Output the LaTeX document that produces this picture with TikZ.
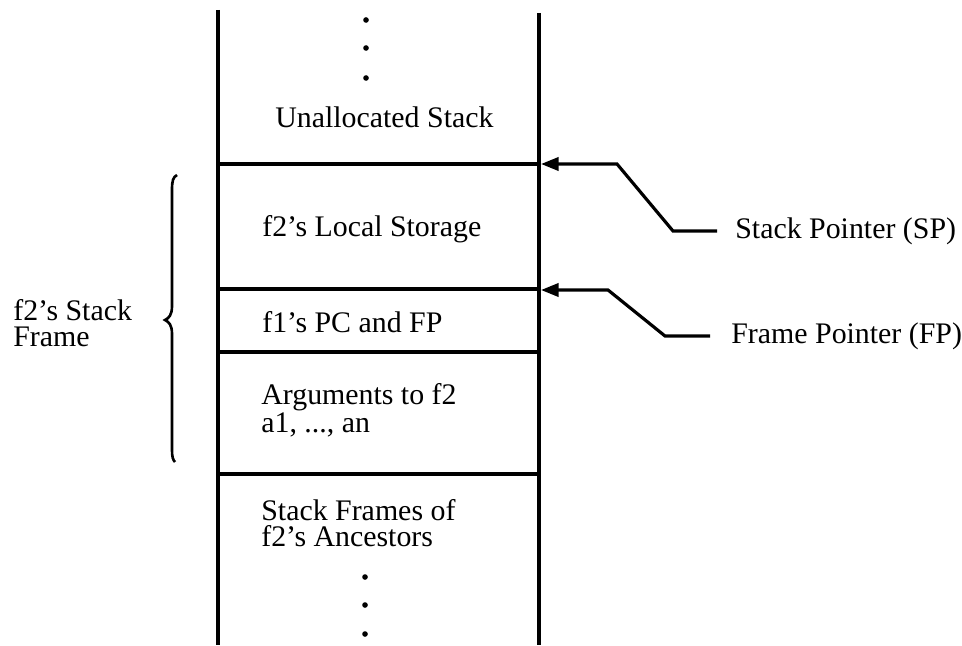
\documentclass[tikz,border=0pt]{standalone}
\usepackage{fontspec}
\setmainfont{Liberation Serif}
\usetikzlibrary{arrows.meta}
\begin{document}
\begin{tikzpicture}[x=0.02cm,y=-0.02cm,
  wall/.style={line width=1.9pt},
  divider/.style={line width=1.8pt},
  ptr/.style={line width=1.8pt,-{Triangle[length=10pt,width=7.5pt]}},
  bracestyle/.style={line width=1.5pt},
  lbl/.style={font=\fontsize{17}{14.6}\selectfont, inner sep=0pt, anchor=west, align=left},
  stackdot/.style={circle,fill,inner sep=0pt,minimum size=3.2pt}]
\useasboundingbox (0,0) rectangle (962,645);
% walls
\coordinate (lt) at (218,10);
\coordinate (lb) at (218,645);
\coordinate (rt) at (539,13);
\coordinate (rb) at (539,645);
\draw[wall] (lt) -- (lb);
\draw[wall] (rt) -- (rb);
% dividers
\foreach \n/\y in {a/164,b/289,c/352,d/474}{
  \coordinate (l\n) at (218,\y);
  \coordinate (r\n) at (539,\y);
  \draw[divider] (l\n) -- (r\n);
}
% dots
\node[stackdot] (d1) at (366,20) {};
\node[stackdot] (d2) at (366,48) {};
\node[stackdot] (d3) at (366,78) {};
\node[stackdot] (d4) at (365,577) {};
\node[stackdot] (d5) at (365,605) {};
\node[stackdot] (d6) at (365,634) {};
% cell labels
\node[lbl] (unalloc) at (275,117) {Unallocated Stack};
\node[lbl] (local) at (262,229) {f2’s Local Storage};
\node[lbl] (pcfp) at (262,322) {f1’s PC and FP};
\node[lbl] (args) at (261,410) {Arguments to f2\\a1, ..., an};
\node[lbl] (anc) at (261,523) {Stack Frames of\\f2’s Ancestors};
% frame label and brace
\node[lbl] (frame) at (13,323) {f2’s Stack\\Frame};
\coordinate (bt) at (177,175);
\coordinate (bm) at (165,320);
\coordinate (bb) at (175,462);
\draw[bracestyle] (bt) .. controls (173,177) and (172,181) .. (172,190)
  -- (172,306) .. controls (172,315) and (169,318) .. (bm)
  .. controls (169,322) and (172,325) .. (172,334)
  -- (172,450) .. controls (172,457) and (173,460) .. (bb);
% pointers
\node[lbl] (sp) at (735,231) {Stack Pointer (SP)};
\node[lbl] (fp) at (731,336) {Frame Pointer (FP)};
\coordinate (sptip) at (541,164);
\coordinate (fptip) at (541,290);
\coordinate (spk) at (617,164);
\coordinate (fpk) at (608,290);
\draw[ptr] ([xshift=-18*0.02cm]sp.west) -- ([xshift=-62*0.02cm]sp.west) -- (spk) -- (sptip);
\draw[ptr] ([xshift=-21*0.02cm]fp.west) -- ([xshift=-66*0.02cm]fp.west) -- (fpk) -- (fptip);
\end{tikzpicture}
\end{document}
